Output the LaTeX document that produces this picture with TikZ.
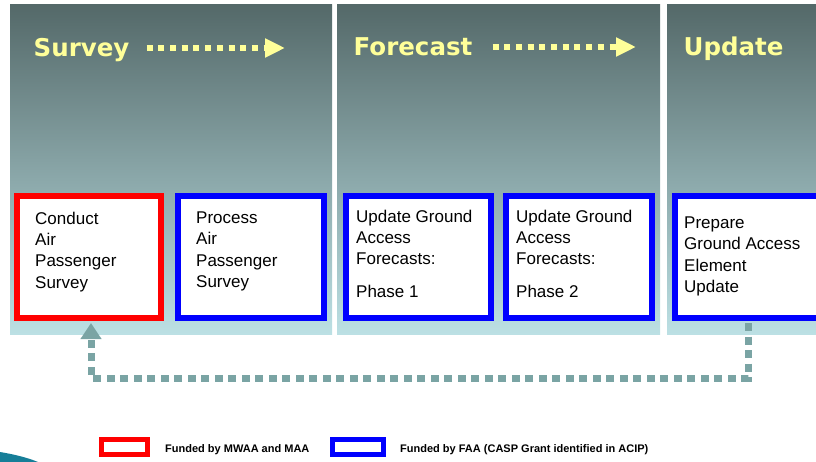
\documentclass[tikz,border=0pt]{standalone}
\usepackage{fontspec}
\setmainfont{Liberation Sans}
\newfontfamily\hdrfont{DejaVu Sans}
\usetikzlibrary{arrows.meta,positioning}
\definecolor{hdryellow}{RGB}{255,255,153}
\definecolor{pnltop}{RGB}{84,105,105}
\definecolor{pnlbot}{RGB}{188,224,228}
\definecolor{loopteal}{RGB}{122,164,164}
\definecolor{swoosh}{RGB}{22,126,152}
\tikzset{% This is the style settings for panels, boxes and arrows
    pnl/.style={top color=pnltop, bottom color=pnlbot},
    hdr/.style={font=\hdrfont\bfseries\fontsize{24.5}{28}\selectfont, text=hdryellow, inner sep=0pt, anchor=base west},
    hdrarrow/.style={draw=hdryellow, line width=6pt, dash pattern=on 6pt off 5.7pt, -{Triangle[length=20pt,width=18pt]}},
    bx/.style={rectangle, draw, fill=white, line width=6pt, minimum height=122pt},
    txt/.style={font=\fontsize{17}{21.3}\selectfont, align=left, inner sep=0pt, anchor=north west},
    e/.style={draw=loopteal, line width=7pt, dash pattern=on 8pt off 5.5pt, -{Triangle[length=16pt,width=20pt]}},
    lg/.style={rectangle, draw, fill=white, line width=5pt, minimum height=15pt, inner sep=0pt},
    lgtext/.style={font=\bfseries\fontsize{11}{12}\selectfont, inner sep=0pt}}

\begin{document}
\begin{tikzpicture}[x=1pt,y=-1pt]
  \clip (0,0) rectangle (816,462);

  % panels
  \fill[pnl] (10,5) rectangle (332,334);
  \fill[pnl] (337,5) rectangle (660,334);
  \fill[pnl] (667,5) rectangle (830,334);

  % headers
  \node[hdr] (survey) at (33.5,57) {Survey};
  \node[hdr] (forecast) at (353.5,56) {Forecast};
  \node[hdr] (update) at (683.5,56) {Update};
  \coordinate (surveyend) at (285,48);
  \coordinate (forecastend) at (636,47);
  \draw[hdrarrow, shorten <=17pt] (survey.east |- surveyend) -- (surveyend);
  \draw[hdrarrow, shorten <=20pt] (forecast.east |- forecastend) -- (forecastend);

  % boxes
  \node[bx, draw=red, minimum width=144pt] (conduct) at (89,257) {};
  \node[bx, draw=blue, minimum width=146pt] (process) at (251,257) {};
  \node[bx, draw=blue, minimum width=145pt] (phaseone) at (418.5,257) {};
  \node[bx, draw=blue, minimum width=146pt] (phasetwo) at (579,257) {};
  \node[bx, draw=blue, minimum width=165pt] (prepare) at (757.5,257) {};

  \node[txt] (conducttext) at (35,211.6) {Conduct\\Air\\Passenger\\Survey};
  \node[txt] (processtext) at (196,211.6) {Process\\Air\\Passenger\\Survey};
  \node[txt] (phaseonetext) at (356,209.6) {Update Ground\\Access\\Forecasts:\\[11.7pt]Phase 1};
  \node[txt] (phasetwotext) at (516,209.6) {Update Ground\\Access\\Forecasts:\\[11.7pt]Phase 2};
  \node[txt] (preparetext) at (684,216.6) {Prepare\\Ground Access\\Element\\Update};

  % loop back
  \coordinate (retR) at (748,378);
  \coordinate (retL) at (91,378);
  \draw[e, shorten <=2pt, shorten >=2pt] (retR |- prepare.south) -- (retR) -- (retL) -- (retL |- conduct.south);

  % legend
  \node[lg, draw=red, minimum width=46pt] (fundred) at (124.5,447) {};
  \node[lgtext, right=15pt of fundred, yshift=-3pt] (fundredtext) {Funded by MWAA and MAA};
  \node[lg, draw=blue, minimum width=51pt] (fundblue) at (358,447) {};
  \node[lgtext, right=14pt of fundblue, yshift=-3pt] (fundbluetext) {Funded by FAA (CASP Grant identified in ACIP)};

  \fill[swoosh] (0,452) .. controls (12,454) and (26,457) .. (38,462) -- (0,462) -- cycle;
\end{tikzpicture}
\end{document}
